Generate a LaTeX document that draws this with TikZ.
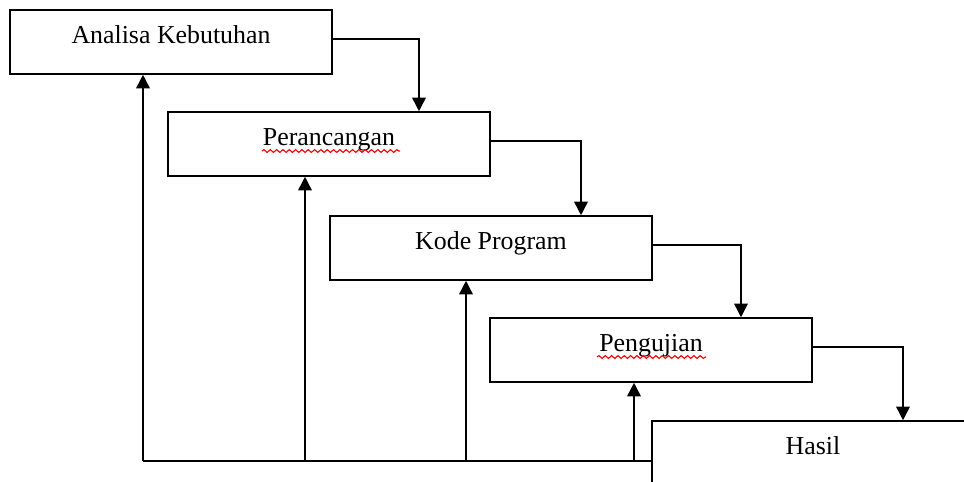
\documentclass[tikz,border=0pt]{standalone}
\usepackage{fontspec}
\setmainfont{Liberation Serif}
\usetikzlibrary{arrows.meta,decorations.pathmorphing}

\begin{document}
\begin{tikzpicture}[
    box/.style={draw, line width=1.1pt, minimum width=8.05cm, minimum height=1.6cm,
        font=\fontsize{18.4}{22}\selectfont, text height=0.7em, text depth=0.55em},
    flow/.style={line width=1.1pt, -{Triangle[length=0.34cm,width=0.34cm]}},
    wavy/.style={red, line width=0.8pt, decorate,
        decoration={snake, amplitude=1pt, segment length=4.5pt}}
]
    % Fix the page size
    \clip (0,0) rectangle (24.1,12.025);

    % The stages, stepping down to the right
    \node[box] (analisa) at (4.275,10.975) {Analisa Kebutuhan};
    \node[box] (perancangan) at (8.225,8.425) {Perancangan};
    \node[box] (kode) at (12.275,5.825) {Kode Program};
    \node[box] (pengujian) at (16.275,3.275) {Pengujian};
    \node[box] (hasil) at (20.325,0.7) {Hasil};

    % Spell check underlines
    \draw[wavy] ([xshift=-1.675cm,yshift=-0.175cm]perancangan.center) -- ++(3.45cm,0);
    \draw[wavy] ([xshift=-1.35cm,yshift=-0.175cm]pengujian.center) -- ++(2.725cm,0);

    % Arrows down to the next stage
    \foreach \a/\b in {analisa/perancangan, perancangan/kode, kode/pengujian, pengujian/hasil}
        \draw[flow] ([yshift=0.07cm]\a.east) -| ([xshift=2.25cm]\b.north);

    % Feedback line along the bottom
    \coordinate (base) at (3.575,0.5);
    \draw[line width=1.1pt] (base) -- (base -| hasil.west);
    \foreach \s/\dx in {analisa/-0.7, perancangan/-0.6, kode/-0.625, pengujian/-0.425}
        \draw[flow] ([xshift=\dx cm]\s.south |- base) -- ([xshift=\dx cm]\s.south);
\end{tikzpicture}
\end{document}
